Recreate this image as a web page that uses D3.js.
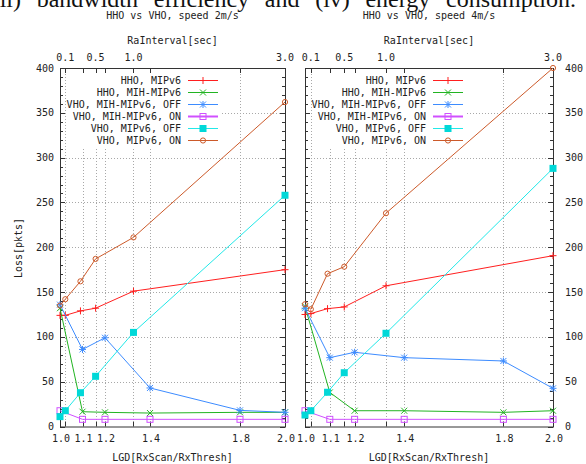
<!DOCTYPE html>
<html lang="en">
<head>
<meta charset="UTF-8">
<title>HHO vs VHO - Loss</title>
<script src="https://d3js.org/d3.v7.min.js"></script>
<style>
  body { margin: 0; background: #fff; }
  svg { display: block; }
  .lbl { font-family: "DejaVu Sans Mono", monospace; font-size: 10px; fill: #222; }
</style>
</head>
<body>
<svg width="586" height="464"></svg>
<script>
// x values (top axis: RaInterval, bottom axis: LGD)
const raInterval = [0.03, 0.1, 0.3, 0.5, 1.0, 3.0];
const lgd = [1.0, 1.1, 1.2, 1.4, 1.8, 2.0];

// tick labels
const raTicks = [0.1, 0.5, 1.0, 3.0];
const lgdTicks = [1.0, 1.1, 1.2, 1.4, 1.8, 2.0];
const lossTicks = [0, 50, 100, 150, 200, 250, 300, 350, 400];

const seriesNames = ["HHO, MIPv6", "HHO, MIH-MIPv6", "VHO, MIH-MIPv6, OFF",
                     "VHO, MIH-MIPv6, ON", "VHO, MIPv6, OFF", "VHO, MIPv6, ON"];
const panelTitles = ["HHO vs VHO, speed 2m/s", "HHO vs VHO, speed 4m/s"];
const captionWords = ["(iii)", "bandwidth", "efficiency", "and", "(iv)", "energy", "consumption."];

// speed 2m/s
const s2HhoMipv6     = [124, 124, 129, 132, 151, 175];
const s2HhoMih       = [132, 16.5, 15.8, 15, 15.8, 15.8];
const s2VhoMihOff    = [136, 86, 99, 43, 18, 15.8];
const s2VhoMihOn     = [17.6, 8, 8, 8, 8, 8];
const s2VhoMipv6Off  = [11, 17.6, 37.7, 56, 105, 258];
const s2VhoMipv6On   = [135, 142, 162, 187, 211, 362];

// speed 4m/s
const s4HhoMipv6     = [125, 126, 131.5, 133.4, 157, 190.6];
const s4HhoMih       = [134, 38, 17.6, 17.6, 15.8, 17.6];
const s4VhoMihOff    = [132, 76.8, 82.8, 76.8, 73.1, 42.6];
const s4VhoMihOn     = [17.6, 8, 8, 8, 8, 8];
const s4VhoMipv6Off  = [12.8, 17.6, 38.2, 60, 104, 288];
const s4VhoMipv6On   = [136.4, 130.8, 170.5, 178.3, 238, 400];

// per-series style: which x axis, colour, point type
const styles = [
    { axis: "ra",  color: "#ff1f1f", mark: "plus" },
    { axis: "lgd", color: "#22b422", mark: "cross" },
    { axis: "lgd", color: "#3d8cff", mark: "star" },
    { axis: "lgd", color: "#d050ff", mark: "square" },
    { axis: "ra",  color: "#22e8e8", mark: "fsquare" },
    { axis: "ra",  color: "#cc5a2a", mark: "circle" }
];

const panels = [
    { x0: 60, x1: 285, title: panelTitles[0], side: "left", keyRight: 181, keyBox: [66, 222],
      data: [s2HhoMipv6, s2HhoMih, s2VhoMihOff, s2VhoMihOn, s2VhoMipv6Off, s2VhoMipv6On] },
    { x0: 305, x1: 553, title: panelTitles[1], side: "right", keyRight: 426, keyBox: [312, 466],
      data: [s4HhoMipv6, s4HhoMih, s4VhoMihOff, s4VhoMihOn, s4VhoMipv6Off, s4VhoMipv6On] }
];

const svg = d3.select("svg");
const plotTop = 68, plotBottom = 426.5;
const yscale = d3.scaleLinear().domain([0, 400]).range([plotBottom, plotTop]);

// cropped, justified caption line from the page above the figure
const cap = svg.append("text")
    .attr("x", -15).attr("y", 7)
    .style("font-family", "'Liberation Serif', serif")
    .style("font-size", "24px")
    .style("fill", "#111");
const capSpans = captionWords.map((w, i) => cap.append("tspan").text(i ? " " + w : w));
const extra = Math.max(0, (591 - cap.node().getComputedTextLength()) / (captionWords.length - 1));
capSpans.forEach((s, i) => { if (i) s.attr("dx", extra); });

function drawMark(g, type, x, y, color) {
    const s = 3;
    if (type === "plus") {
        g.append("path").attr("d", `M${x - s - 0.5},${y}h${2 * s + 1}M${x},${y - s - 0.5}v${2 * s + 1}`)
            .attr("stroke", color).attr("fill", "none");
    } else if (type === "cross") {
        g.append("path").attr("d", `M${x - s},${y - s}L${x + s},${y + s}M${x - s},${y + s}L${x + s},${y - s}`)
            .attr("stroke", color).attr("fill", "none");
    } else if (type === "star") {
        g.append("path").attr("d", `M${x - s - 0.5},${y}h${2 * s + 1}M${x},${y - s - 0.5}v${2 * s + 1}` +
            `M${x - s},${y - s}L${x + s},${y + s}M${x - s},${y + s}L${x + s},${y - s}`)
            .attr("stroke", color).attr("fill", "none");
    } else if (type === "square") {
        g.append("rect").attr("x", x - s).attr("y", y - s).attr("width", 2 * s).attr("height", 2 * s)
            .attr("stroke", color).attr("fill", "none");
    } else if (type === "fsquare") {
        g.append("rect").attr("x", x - s - 0.5).attr("y", y - s - 0.5).attr("width", 2 * s + 1).attr("height", 2 * s + 1)
            .attr("fill", "#00d8d8");
    } else if (type === "circle") {
        g.append("circle").attr("cx", x).attr("cy", y).attr("r", 2.6)
            .attr("stroke", color).attr("fill", "none");
    }
}

panels.forEach(function (p) {
    const xLgd = d3.scaleLinear().domain([1.0, 2.0]).range([p.x0, p.x1]);
    const xRa = d3.scaleLinear().domain([0.03, 3.0]).range([p.x0, p.x1]);
    const g = svg.append("g");
    const mid = (p.x0 + p.x1) / 2;

    // grid
    const grid = g.append("g").attr("stroke", "#a8a8a8").attr("stroke-dasharray", "1,2");
    lossTicks.slice(1, -1).forEach(v => {
        grid.append("line").attr("x1", p.x0).attr("x2", p.x1)
            .attr("y1", Math.round(yscale(v)) + 0.5).attr("y2", Math.round(yscale(v)) + 0.5);
    });
    lgdTicks.slice(1, -1).forEach(v => {
        grid.append("line").attr("x1", Math.round(xLgd(v)) + 0.5).attr("x2", Math.round(xLgd(v)) + 0.5)
            .attr("y1", plotTop).attr("y2", plotBottom);
    });
    raTicks.slice(0, -1).forEach(v => {
        grid.append("line").attr("x1", Math.round(xRa(v)) + 0.5).attr("x2", Math.round(xRa(v)) + 0.5)
            .attr("y1", plotTop).attr("y2", plotBottom);
    });

    // opaque key box
    g.append("rect").attr("x", p.keyBox[0]).attr("y", 72)
        .attr("width", p.keyBox[1] - p.keyBox[0]).attr("height", 75).attr("fill", "#fff");

    // border and ticks
    g.append("rect").attr("x", p.x0 + 0.5).attr("y", plotTop + 0.5)
        .attr("width", p.x1 - p.x0).attr("height", plotBottom - plotTop)
        .attr("fill", "none").attr("stroke", "#333");
    const ticks = g.append("g").attr("stroke", "#333");
    d3.range(0, 401, 10).forEach(v => {
        const len = v % 50 === 0 ? 5 : 3;
        const y = Math.round(yscale(v)) + 0.5;
        ticks.append("line").attr("x1", p.x0).attr("x2", p.x0 + len).attr("y1", y).attr("y2", y);
        ticks.append("line").attr("x1", p.x1).attr("x2", p.x1 - len).attr("y1", y).attr("y2", y);
    });
    lgdTicks.forEach(v => {
        const x = Math.round(xLgd(v)) + 0.5;
        ticks.append("line").attr("x1", x).attr("x2", x).attr("y1", plotBottom).attr("y2", plotBottom - 5);
        ticks.append("line").attr("x1", x).attr("x2", x).attr("y1", plotTop).attr("y2", plotTop + 5);
    });
    raTicks.forEach(v => {
        const x = Math.round(xRa(v)) + 0.5;
        ticks.append("line").attr("x1", x).attr("x2", x).attr("y1", plotTop).attr("y2", plotTop + 5);
        ticks.append("line").attr("x1", x).attr("x2", x).attr("y1", plotBottom).attr("y2", plotBottom - 5);
    });

    // tick labels
    lossTicks.forEach(v => {
        g.append("text").attr("class", "lbl")
            .attr("x", p.side === "left" ? p.x0 - 6 : p.x1 + 12)
            .attr("y", yscale(v)).attr("dy", "0.35em")
            .attr("text-anchor", p.side === "left" ? "end" : "start")
            .text(v);
    });
    lgdTicks.forEach(v => {
        g.append("text").attr("class", "lbl")
            .attr("x", xLgd(v) + 1).attr("y", 438).attr("dy", "0.35em")
            .attr("text-anchor", "middle").text(v.toFixed(1));
    });
    raTicks.forEach(v => {
        g.append("text").attr("class", "lbl")
            .attr("x", xRa(v)).attr("y", 57.5).attr("dy", "0.35em")
            .attr("text-anchor", "middle").text(v.toFixed(1));
    });

    // titles
    g.append("text").attr("class", "lbl").attr("x", mid).attr("y", 15).attr("dy", "0.35em")
        .attr("text-anchor", "middle").text(p.title);
    g.append("text").attr("class", "lbl").attr("x", mid).attr("y", 40).attr("dy", "0.35em")
        .attr("text-anchor", "middle").text("RaInterval[sec]");
    g.append("text").attr("class", "lbl").attr("x", mid).attr("y", 457).attr("dy", "0.35em")
        .attr("text-anchor", "middle").text("LGD[RxScan/RxThresh]");
    if (p.side === "left") {
        g.append("text").attr("class", "lbl")
            .attr("transform", "rotate(-90)")
            .attr("x", -248).attr("y", 18).attr("dy", "0.35em")
            .attr("text-anchor", "middle").text("Loss[pkts]");
    }

    // series
    p.data.forEach(function (vals, i) {
        const st = styles[i];
        const xs = st.axis === "ra" ? raInterval : lgd;
        const sc = st.axis === "ra" ? xRa : xLgd;
        const pts = vals.map((v, k) => [sc(xs[k]), yscale(v)]);
        g.append("path").attr("d", d3.line()(pts))
            .attr("fill", "none").attr("stroke", st.color).attr("stroke-width", 1);
        pts.forEach(pt => drawMark(g, st.mark, pt[0], pt[1], st.color));
    });

    // key
    seriesNames.forEach(function (name, i) {
        const st = styles[i];
        const y = 80 + i * 12;
        g.append("text").attr("class", "lbl").attr("x", p.keyRight).attr("y", y).attr("dy", "0.35em")
            .attr("text-anchor", "end").text(name);
        g.append("line").attr("x1", p.keyRight + 7).attr("x2", p.keyRight + 37)
            .attr("y1", y + 0.5).attr("y2", y + 0.5)
            .attr("stroke", st.color).attr("stroke-width", i === 3 ? 2 : 1);
        drawMark(g, st.mark, p.keyRight + 22, y + 0.5, st.color);
    });
});
</script>
</body>
</html>
